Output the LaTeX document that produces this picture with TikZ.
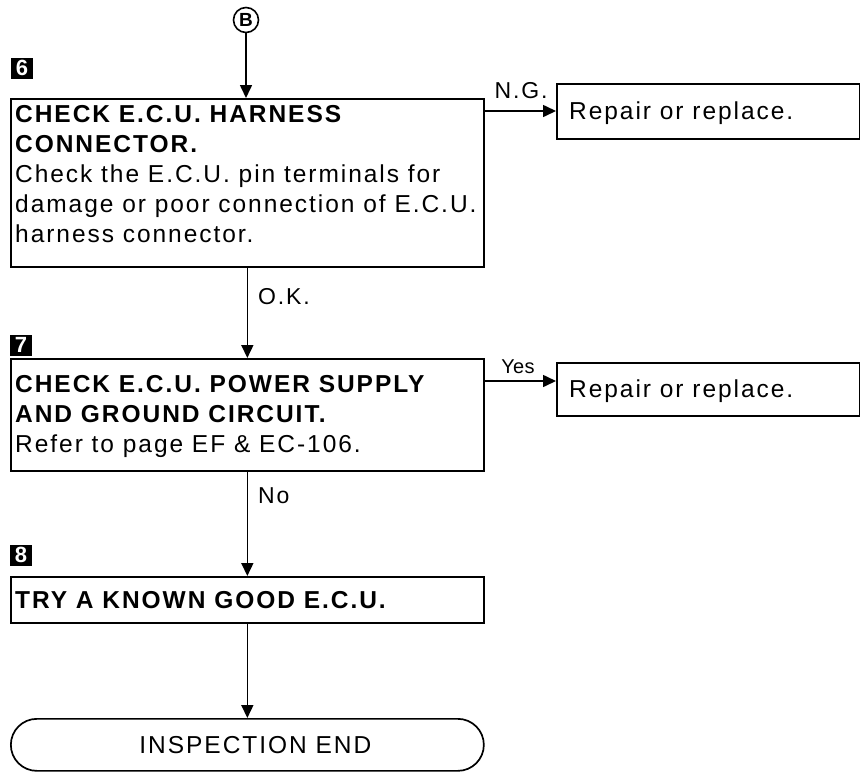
\documentclass[tikz,border=0pt]{standalone}
\usepackage{fontspec}
\setmainfont{Liberation Sans}[LetterSpace=8]
\usetikzlibrary{arrows.meta}
\begin{document}
\begin{tikzpicture}[x=1pt,y=-1pt,
  box/.style={draw, line width=1.7pt, anchor=north west, inner sep=0pt},
  txt/.style={anchor=north west, inner sep=0pt, align=left, font=\fontsize{24.5}{30}\selectfont},
  lab/.style={inner sep=0pt, font=\fontsize{23}{23}\selectfont},
  sq/.style={fill=black, text=white, minimum width=22pt, minimum height=21pt, inner sep=0pt, font=\bfseries\fontsize{22}{22}\selectfont\addfontfeatures{LetterSpace=0}},
  arr/.style={line width=1.6pt, -{Triangle[length=13pt,width=12pt]}}]
\useasboundingbox (0,0) rectangle (860,772);

% start connector
\node[draw, circle, line width=1.6pt, minimum size=25pt, inner sep=0pt,
      font=\bfseries\fontsize{19}{19}\selectfont\addfontfeatures{LetterSpace=0}] (cB) at (246,20) {B};

% step 6
\node[sq] (n6) at (22,68) {6};
\node[box, minimum width=473pt, minimum height=168pt] (b6) at (10,98) {};
\node[txt] (t6) at (15,105.5) {{\bfseries CHECK E.C.U. HARNESS}\\{\bfseries CONNECTOR.}\\Check the E.C.U. pin terminals for\\damage or poor connection of E.C.U.\\harness connector.};
\node[box, minimum width=303pt, minimum height=55pt] (r1) at (556,83) {};
\node[lab, anchor=base west, font=\fontsize{24.5}{24.5}\selectfont] (r1t) at (569,119) {Repair or replace.};
\coordinate (ng1) at (0,111);
\draw[arr] (b6.east |- ng1) -- (r1.west |- ng1);
\node[lab, anchor=base] (ngl) at (521,98) {N.G.};

% step 7
\draw[arr] (b6.south) -- (b6.south |- 0,358) coordinate (a7);
\node[lab, anchor=base west] (okl) at (258,304) {O.K.};
\node[sq] (n7) at (21,345) {7};
\node[box, minimum width=473pt, minimum height=112pt] (b7) at (10,358) {};
\node[txt] (t7) at (15,375.5) {{\bfseries CHECK E.C.U. POWER SUPPLY}\\{\bfseries AND GROUND CIRCUIT.}\\Refer to page EF \& EC-106.};
\node[box, minimum width=303pt, minimum height=53pt] (r2) at (556,362) {};
\node[lab, anchor=base west, font=\fontsize{24.5}{24.5}\selectfont] (r2t) at (569,397) {Repair or replace.};
\coordinate (ys1) at (0,381);
\draw[arr] (b7.east |- ys1) -- (r2.west |- ys1);
\node[lab, anchor=base, font=\fontsize{20}{20}\selectfont\addfontfeatures{LetterSpace=2}] (ysl) at (518,373) {Yes};

% step 8
\node[lab, anchor=base west] (nol) at (258,503) {No};
\node[sq] (n8) at (21,555) {8};
\node[box, minimum width=473pt, minimum height=46pt] (b8) at (10,576) {};
\node[txt] (t8) at (15,591) {\bfseries TRY A KNOWN GOOD E.C.U.};
\draw[arr] (b7.south) -- (b8.north);

% end
\node[box, rounded corners=26pt, minimum width=473pt, minimum height=52pt] (end) at (10,718) {};
\node[lab, font=\fontsize{24.5}{24.5}\selectfont] (endt) at ([xshift=8pt]end.center) {INSPECTION END};
\draw[arr] (b8.south) -- (end.north);

\draw[arr] (cB.south) -- (cB.south |- b6.north);
\end{tikzpicture}
\end{document}
